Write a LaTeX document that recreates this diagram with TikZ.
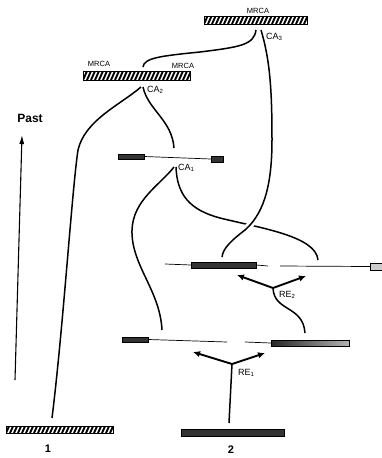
\documentclass[tikz,border=0pt]{standalone}
\usepackage{fontspec}
\setmainfont{Liberation Sans}
\usetikzlibrary{arrows.meta}
\begin{document}
\begin{tikzpicture}[x=1pt,y=-1pt,
 hatchbar/.style={draw=black,line width=0.9pt,fill=white,inner sep=0pt,minimum height=8pt,
   path picture={\foreach \i in {-2,...,30}{\draw[line width=1.9pt] ([xshift=\i*4pt]path picture bounding box.south west) -- ++(4.5pt,10pt);}}},
 darkbar/.style={draw=black,line width=0.5pt,fill=black!80,inner sep=0pt,minimum height=6pt},
 lightbar/.style={draw=black,line width=0.5pt,fill=black!20,inner sep=0pt,minimum height=7pt},
 gradbar/.style={draw=black,line width=0.5pt,left color=black!85,right color=black!30,inner sep=0pt,minimum height=6pt},
 lineage/.style={line width=1.5pt},
 thinline/.style={line width=0.7pt},
 rearrow/.style={line width=1.9pt,-{Latex[length=7pt,width=6.5pt]}},
 lbl/.style={font=\fontsize{9}{10}\selectfont,inner sep=0pt,anchor=west},
 mrca/.style={font=\fontsize{7.5}{9}\selectfont,inner sep=0pt},
 big/.style={font=\fontsize{12}{13}\selectfont\bfseries,inner sep=0pt},
 num/.style={font=\fontsize{11}{12}\selectfont\bfseries,inner sep=0pt}]
\fill[white] (0,0) rectangle (381,458);
\useasboundingbox (0,0) rectangle (381,458);

% bars
\node[hatchbar,minimum width=103pt] (b3) at (255.5,20) {};
\node[hatchbar,minimum width=107pt,minimum height=9pt] (b2) at (136.5,75.5) {};
\node[hatchbar,minimum width=107pt,minimum height=7pt] (b1) at (59.5,429.5) {};
\node[darkbar,minimum width=26pt,minimum height=5pt] (c1l) at (131,156.5) {};
\node[darkbar,minimum width=12pt] (c1r) at (217,159) {};
\node[darkbar,minimum width=65pt] (mb) at (223.5,265) {};
\node[lightbar,minimum width=12pt] (mr) at (376,266.5) {};
\node[darkbar,minimum width=26pt,minimum height=5pt] (r1l) at (135,339.5) {};
\node[gradbar,minimum width=78pt] (r1r) at (310,343) {};
\node[darkbar,minimum width=103pt,minimum height=7pt] (b0) at (232.5,432.5) {};

% coordinates
\coordinate (p3a) at (256,30);
\coordinate (p3b) at (261,30);
\coordinate (e3a) at (143,67);
\coordinate (e3b) at (222,257);
\coordinate (p2a) at (141,87);
\coordinate (p2b) at (143,87);
\coordinate (e2a) at (52,418);
\coordinate (e2b) at (174,148);
\coordinate (p1a) at (174,167);
\coordinate (p1b) at (176,167);
\coordinate (e1a) at (162,330);
\coordinate (e1b) at (318,260);
\coordinate (m0) at (165,264);
\coordinate (m1) at (268,266);
\coordinate (m2) at (280,266);
\coordinate (r0) at (227,342);
\coordinate (r2) at (245,342);
\coordinate (j2) at (273,288);
\coordinate (a2l) at (237,275);
\coordinate (a2r) at (306,276);
\coordinate (e2) at (305,333);
\coordinate (j1) at (232,364);
\coordinate (a1l) at (193,352);
\coordinate (a1r) at (265,353);
\coordinate (e1) at (229,423);
\coordinate (pa0) at (15,380);
\coordinate (pa1) at (22,135);

% thin chromosome lines
\draw[thinline] (c1l.east) -- (c1r.west);
\draw[thinline] (m0) -- (mb.west);
\draw[thinline] (mb.east) -- (m1);
\draw[thinline] (m2) -- (mr.west);
\draw[thinline] (r1l.east) -- (r0);
\draw[thinline] (r2) -- (r1r.west);

% lineages
\draw[lineage] (p3a) .. controls (254,45) and (240,47) .. (200,52) .. controls (160,56) and (144,58) .. (e3a);
\draw[lineage] (p2a) .. controls (120,105) and (85,120) .. (78,150) .. controls (72,190) and (63,330) .. (e2a);
\draw[lineage] (p2b) .. controls (148,110) and (172,120) .. (e2b);
\draw[lineage] (p1a) .. controls (160,185) and (133,200) .. (132,230) .. controls (131,265) and (160,290) .. (e1a);
\draw[lineage] (p1b) .. controls (177,195) and (190,210) .. (220,218) .. controls (260,228) and (316,236) .. (e1b);
\draw[lineage,preaction={draw,white,line width=7pt}] (272,140) .. controls (272,190) and (262,215) .. (245,230) .. controls (232,240) and (223,248) .. (e3b);
\draw[lineage] (p3b) .. controls (270,60) and (272,90) .. (272,140);
\draw[lineage] (j2) .. controls (274,312) and (303,305) .. (e2);

% recombination arrows
\draw[rearrow] (j2) -- (a2l);
\draw[rearrow] (j2) -- (a2r);
\draw[rearrow] (j1) -- (a1l);
\draw[rearrow] (j1) -- (a1r);
\draw[lineage] (j1) -- (e1);

% past arrow
\draw[line width=1.1pt,-{Latex[length=9pt,width=5pt]}] (pa0) -- (pa1);

% labels
\node[mrca] (lm3) at (258,11) {MRCA};
\node[mrca] (lm2l) at (99,64) {MRCA};
\node[mrca] (lm2r) at (183,66) {MRCA};
\node[lbl] (lca3) at (266,37) {CA\textsubscript{3}};
\node[lbl] (lca2) at (147,90) {CA\textsubscript{2}};
\node[lbl] (lca1) at (178,168) {CA\textsubscript{1}};
\node[lbl] (lre2) at (279,295) {RE\textsubscript{2}};
\node[lbl] (lre1) at (238,373) {RE\textsubscript{1}};
\node[big] (lpast) at (30,118) {Past};
\node[num] (l1) at (48,449) {1};
\node[num] (l2) at (231,450) {2};
\end{tikzpicture}
\end{document}
